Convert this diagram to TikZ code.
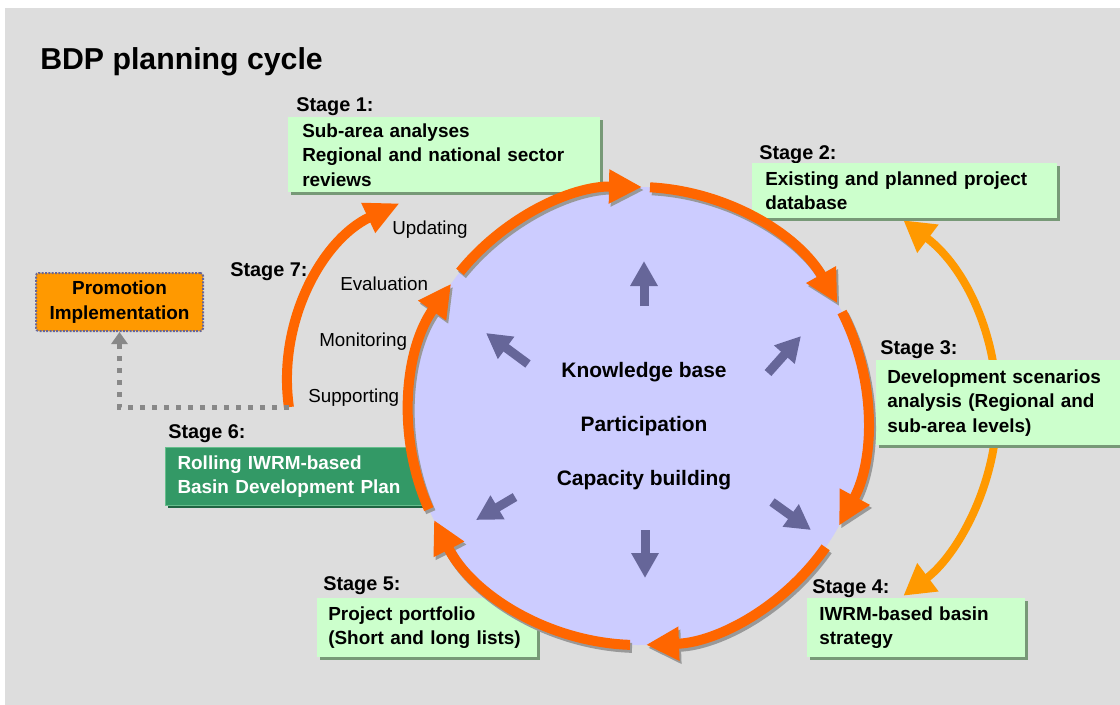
\documentclass[tikz,border=0pt]{standalone}
\usepackage{fontspec}
\setmainfont{Liberation Sans}
\usetikzlibrary{arrows.meta,shadows}

\definecolor{bggray}{RGB}{221,221,221}
\definecolor{boxgreen}{RGB}{204,255,204}
\definecolor{boxshadow}{RGB}{119,153,119}
\definecolor{plangreen}{RGB}{51,153,102}
\definecolor{planedge}{RGB}{102,190,140}
\definecolor{planshadow}{RGB}{30,100,65}
\definecolor{cycleorange}{RGB}{255,102,0}
\definecolor{swaporange}{RGB}{255,153,0}
\definecolor{hubblue}{RGB}{204,204,255}
\definecolor{hubpurple}{RGB}{102,102,153}
\definecolor{dotgray}{RGB}{136,136,136}

\newcommand{\titlefont}{\fontsize{22.7}{27}\selectfont\bfseries}
\newcommand{\stagefont}{\fontsize{14.9}{18}\selectfont\bfseries}
\newcommand{\boxfont}{\fontsize{14.2}{18.4}\selectfont\bfseries}
\newcommand{\hubfont}{\fontsize{15.7}{19}\selectfont\bfseries}
\newcommand{\stepfont}{\fontsize{14.1}{17}\selectfont}

\begin{document}
\begin{tikzpicture}[x=0.75pt,y=0.75pt,yscale=-1,xscale=1,
	stagelbl/.style={anchor=base west, inner sep=0pt, font=\stagefont},
	steplbl/.style={anchor=base west, inner sep=0pt, font=\stepfont},
	greenbox/.style={anchor=north west, fill=boxgreen, align=left, inner ysep=0pt, font=\boxfont,
		drop shadow={shadow xshift=2pt, shadow yshift=-2pt, fill=boxshadow, opacity=1}},
	cyclearc/.style={draw=cycleorange, line width=7.5pt, -{Triangle[length=24.75pt, width=24pt]}},
	arcshadow/.style={draw=gray!80, line width=7.5pt, -{Triangle[length=24.75pt, width=24pt]}},
	hubarrow/.style={draw=hubpurple, line width=6.75pt, -{Triangle[length=18.75pt, width=19.5pt]}},
	hubtext/.style={anchor=base, inner sep=0pt, font=\hubfont}]
		\useasboundingbox (0,0) rectangle (1120,704);
		%background
		\fill[bggray] (5,8) rectangle (1125,710);
		
		% Text Node
		\node (title) [anchor=base west, inner sep=0pt, font=\titlefont] at (40,69) {BDP planning cycle};
		
		%Stage 2 <-> Stage 4 link
		\coordinate (swaphub) at (762,408);
		\draw[draw=swaporange, line width=6pt, {Triangle[length=23pt, width=25pt]}-{Triangle[length=23pt, width=25pt]}] (swaphub) ++(-53:235) coordinate (dbtip) arc[start angle=-53, end angle=53, radius=235] coordinate (strtip);
		
		%Stage 7 loop
		\coordinate (s7hub) at (482,380);
		\draw[draw=cycleorange, line width=7.5pt, -{Triangle[length=26pt, width=23pt]}] (s7hub) ++(-188:195) coordinate (s7base) arc[start angle=-188, end angle=-115, radius=195];
		
		%Promotion box
		\node (promo) [anchor=north west, fill=swaporange, draw=hubpurple, densely dotted, line width=1.5pt, rounded corners=2pt, minimum width=125.25pt, minimum height=43.5pt, inner sep=0pt, align=center, font=\boxfont] at (35,272) {Promotion\\Implementation};
		\draw[draw=dotgray, line width=3.75pt, dash pattern=on 3.75pt off 5.25pt, -{Triangle[length=9pt, width=12pt]}] (s7base) -| (promo.south);
		
		% Stage labels and boxes
		\node (s1lbl) [stagelbl] at (296,111) {Stage 1:};
		\node (s1box) [greenbox, text width=213pt, inner xsep=10.5pt, minimum height=56.25pt] at (288,117) {Sub-area analyses\\Regional and national sector\\reviews};
		\node (s2lbl) [stagelbl] at (759,159) {Stage 2:};
		\node (s2box) [greenbox, text width=209.25pt, inner xsep=9.75pt, minimum height=41.25pt] at (752,163) {Existing and planned project\\database};
		\node (s3lbl) [stagelbl] at (880,354) {Stage 3:};
		\node (s3box) [greenbox, text width=178.5pt, inner xsep=8.25pt, minimum height=63.75pt] at (876,360) {Development scenarios\\analysis (Regional and\\sub-area levels)};
		\node (s4lbl) [stagelbl] at (812,593) {Stage 4:};
		\node (s4box) [greenbox, text width=145.5pt, inner xsep=9pt, minimum height=44.25pt] at (807,598) {IWRM-based basin\\strategy};
		\node (s5lbl) [stagelbl] at (323,590) {Stage 5:};
		\node (s5box) [greenbox, text width=148.5pt, inner xsep=8.25pt, minimum height=44.25pt] at (317,598) {Project portfolio\\(Short and long lists)};
		\node (s6lbl) [stagelbl] at (168,438) {Stage 6:};
		\node (s6box) [greenbox, fill=plangreen, draw=planedge, line width=0.75pt, text=white, text width=174.75pt, inner xsep=9pt, minimum height=43.5pt,
			drop shadow={shadow xshift=2pt, shadow yshift=-2pt, fill=planshadow, opacity=1}] at (165,447) {Rolling IWRM-based\\Basin Development Plan};
		\node (s7lbl) [stagelbl] at (230,276) {Stage 7:};
		
		% Text Node
		\node (upd) [steplbl] at (392,234) {Updating};
		\node (eva) [steplbl] at (340,290) {Evaluation};
		\node (mon) [steplbl] at (319,346) {Monitoring};
		\node (sup) [steplbl] at (308,402) {Supporting};
		
		%Cycle
		\coordinate (hub) at (638,416);
		\fill[hubblue] (hub) circle[radius=229];
		\foreach \a/\b in {-141/-89,-87/-29.5,-27/28.6,35/88,92/153,156/215.3}
			\draw[arcshadow] ([shift={(2,3)}]hub) ++(\a:229) arc[start angle=\a, end angle=\b, radius=229];
		\foreach \a/\b in {-141/-89,-87/-29.5,-27/28.6,35/88,92/153,156/215.3}
			\draw[cyclearc] (hub) ++(\a:229) arc[start angle=\a, end angle=\b, radius=229];
		
		%Inner arrows
		\foreach \x/\y/\u/\v in {644/306/644/261, 768/373/801/336, 528/364/486/333, 515/497/476/520, 772/502/811/530, 645/530/645/578}
			\draw[hubarrow] (\x,\y) -- (\u,\v);
		
		% Text Node
		\node (kb) [hubtext] at (644,377) {Knowledge base};
		\node (part) [hubtext] at (644,431) {Participation};
		\node (cap) [hubtext] at (644,485) {Capacity building};
		
\end{tikzpicture}
\end{document}
